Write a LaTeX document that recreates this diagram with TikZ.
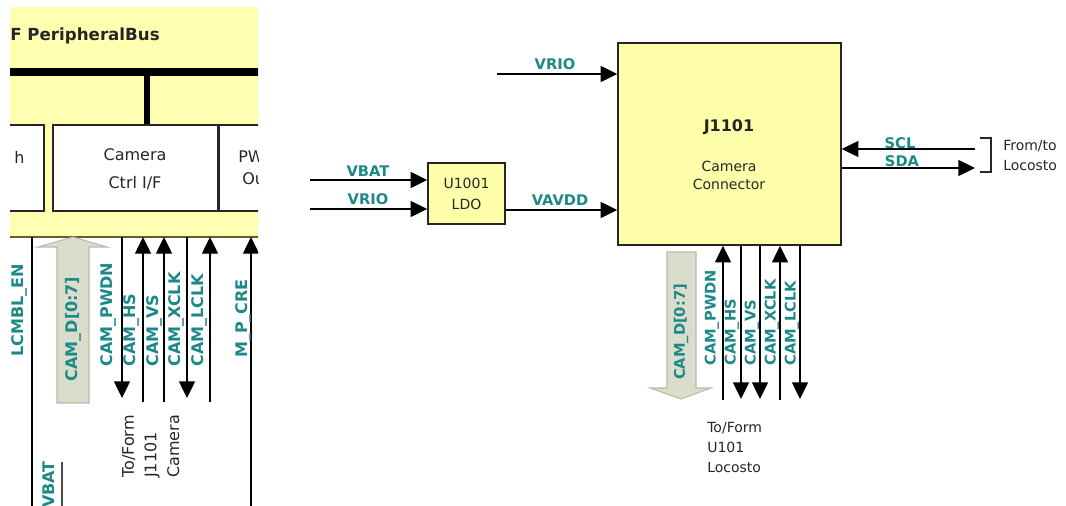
\documentclass[tikz,border=0pt]{standalone}
\usepackage{fontspec}
\setmainfont{DejaVu Sans}
\usetikzlibrary{arrows.meta}

\definecolor{sigteal}{RGB}{28,136,136}
\definecolor{busyellow}{RGB}{255,255,178}
\definecolor{boxyellow}{RGB}{255,255,170}
\definecolor{fatfill}{RGB}{218,221,204}
\definecolor{fatline}{RGB}{184,187,170}
\definecolor{txtgray}{RGB}{38,38,38}

\newcommand{\sigfontR}{\fontsize{11}{13}\selectfont\bfseries}
\newcommand{\sigfontL}{\fontsize{12}{14}\selectfont\bfseries}

\begin{document}
\begin{tikzpicture}[x=0.75pt, y=-0.75pt,
  sigR/.style={font=\sigfontR, text=sigteal, inner sep=0pt},
  sigL/.style={font=\sigfontL, text=sigteal, inner sep=0pt},
  lblR/.style={font=\fontsize{10.5}{15}\selectfont, text=txtgray, inner sep=0pt},
  lblL/.style={font=\fontsize{12}{16.9}\selectfont, text=txtgray, inner sep=0pt},
  blkbox/.style={draw=black!85, line width=1.1pt, inner sep=0pt},
  wire/.style={line width=1pt, -{Triangle[length=12.5pt,width=12pt]}},
  fatarrow/.style={fill=fatfill, draw=fatline, line width=0.8pt}]
\useasboundingbox (0,0) rectangle (1066,506);

\coordinate (ybot) at (0,237);
\coordinate (ltip) at (0,398);
\coordinate (lfoot) at (0,402);
\coordinate (bot) at (0,506);

%% left: piece of the baseband block
\begin{scope}
\clip (10,0) rectangle (258,506);
\fill[busyellow] (0,7) rectangle (270,237);
\draw[olive!60!black, line width=0.8pt] (0,237) -- (270,237);
\node[anchor=west, font=\fontsize{12.5}{14}\selectfont\bfseries, text=black!85, inner sep=0pt] (pbus) at (10,36) {F PeripheralBus};
\draw[line width=6pt] (0,72) -- (270,72);

\node[blkbox, fill=white, minimum width=48pt, minimum height=64.5pt] (leftif) at (12,168) {};
\node[lblL, anchor=west] (lefttxt) at (14,157) {h};
\node[blkbox, fill=white, minimum width=123.75pt, minimum height=64.5pt] (camif) at (135.5,168) {};
\node[lblL] (camtxt) at (135,155) {Camera};
\node[lblL] (ctrltxt) at (135,183) {Ctrl I/F};
\node[blkbox, fill=white, minimum width=60.75pt, minimum height=64.5pt] (pwmif) at (259.5,168) {};
\node[lblL, anchor=west] (pwtxt) at (238,157) {PW};
\node[lblL, anchor=west] (outxt) at (242,179) {Ou};

\coordinate (tap) at (147,72);
\draw[line width=4pt] (tap) -- (tap |- camif.north);

% signals under the block
\coordinate (lcmblA) at (32,237);
\draw[line width=1.3pt] (lcmblA) -- (lcmblA |- bot);
\node[sigL, rotate=90, anchor=west] (lcmblL) at (19,357) {LCMBL\_EN};

\draw[fatarrow] (57,403) -- (89,403) -- (89,247) -- (107,247) -- (73,237) -- (38,247) -- (57,247) -- cycle;
\node[sigL, rotate=90] (camdL) at (73,329) {CAM\_D[0:7]};

\coordinate (pwdnA) at (122,237);
\coordinate (hsA) at (143,237);
\coordinate (vsA) at (164,237);
\coordinate (xclkA) at (187,237);
\coordinate (lclkA) at (210,237);
\coordinate (mpcreA) at (251,237);
\draw[wire] (pwdnA) -- (pwdnA |- ltip);
\draw[wire] (hsA |- lfoot) -- (hsA);
\draw[wire] (vsA |- lfoot) -- (vsA);
\draw[wire] (xclkA) -- (xclkA |- ltip);
\draw[wire] (lclkA |- lfoot) -- (lclkA);
\draw[wire] (mpcreA |- bot) -- (mpcreA);

\node[sigL, rotate=90, anchor=west] (pwdnL) at (108,367) {CAM\_PWDN};
\node[sigL, rotate=90, anchor=west] (hsL) at (131,367) {CAM\_HS};
\node[sigL, rotate=90, anchor=west] (vsL) at (154,367) {CAM\_VS};
\node[sigL, rotate=90, anchor=west] (xclkL) at (176,367) {CAM\_XCLK};
\node[sigL, rotate=90, anchor=west] (lclkL) at (199,367) {CAM\_LCLK};
\node[sigL, rotate=90, anchor=west] (mpcreL) at (243,358) {M\_P\_CRE};

\node[lblL, rotate=90, align=left, anchor=north west] (tojL) at (122,478) {To/Form\\J1101\\Camera};

\coordinate (vbatA) at (62,462);
\draw[line width=1.2pt, black!70] (vbatA) -- (vbatA |- bot);
\node[sigL, rotate=90, anchor=west] (vbatL) at (49,508) {VBAT};
\end{scope}

%% right: camera connector
\node[blkbox, fill=boxyellow, minimum width=167.25pt, minimum height=151.5pt] (j1101) at (729.5,144) {};
\node[lblR, font=\fontsize{12}{14}\selectfont\bfseries] (jname) at (729,127) {J1101};
\node[lblR] (jcam) at (729,166) {Camera};
\node[lblR] (jcon) at (729,184) {Connector};

\node[blkbox, fill=boxyellow, minimum width=57.75pt, minimum height=45.75pt, align=center, font=\fontsize{10.5}{15.75}\selectfont, text=txtgray] (ldo) at (466.5,193.5) {U1001\\LDO};

\coordinate (vrioT) at (497,74);
\coordinate (vbatS) at (310,180);
\coordinate (vrioS) at (310,209);
\coordinate (vavdd) at (0,210);
\draw[wire] (vrioT) -- (vrioT -| j1101.west);
\draw[wire] (vbatS) -- (vbatS -| ldo.west);
\draw[wire] (vrioS) -- (vrioS -| ldo.west);
\draw[wire] (vavdd -| ldo.east) -- (vavdd -| j1101.west);
\node[sigR] (vrioTL) at (555,64) {VRIO};
\node[sigR] (vbatSL) at (368,171) {VBAT};
\node[sigR] (vrioSL) at (368,199) {VRIO};
\node[sigR] (vavddL) at (560,200) {VAVDD};

\coordinate (sclE) at (975,149);
\coordinate (sdaE) at (975,168);
\draw[wire] (sclE) -- (sclE -| j1101.east);
\draw[wire] (sdaE -| j1101.east) -- (sdaE);
\node[sigR] (sclL) at (900,143) {SCL};
\node[sigR] (sdaL) at (902,161) {SDA};
\draw[line width=0.9pt, txtgray] (980,138) -- (991,138) -- (991,172) -- (980,172);
\node[lblR, anchor=west, align=left] (fromto) at (1003,155) {From/to\\Locosto};

% bus to Locosto
\draw[fatarrow] (667,252) -- (696,252) -- (696,388) -- (711,388) -- (681,399) -- (650,388) -- (667,388) -- cycle;
\node[sigR, rotate=90] (camdR) at (681,332) {CAM\_D[0:7]};

\coordinate (rfoot) at (0,400);
\coordinate (rtip) at (0,399);
\coordinate (pwdnB) at (723,0);
\coordinate (hsB) at (741,0);
\coordinate (vsB) at (760,0);
\coordinate (xclkB) at (780,0);
\coordinate (lclkB) at (800,0);
\draw[wire] (pwdnB |- rfoot) -- (pwdnB |- j1101.south);
\draw[wire] (hsB |- j1101.south) -- (hsB |- rtip);
\draw[wire] (vsB |- j1101.south) -- (vsB |- rtip);
\draw[wire] (xclkB |- rfoot) -- (xclkB |- j1101.south);
\draw[wire] (lclkB |- j1101.south) -- (lclkB |- rtip);

\node[sigR, rotate=90, anchor=west] (pwdnR) at (712,366) {CAM\_PWDN};
\node[sigR, rotate=90, anchor=west] (hsR) at (732,366) {CAM\_HS};
\node[sigR, rotate=90, anchor=west] (vsR) at (752,366) {CAM\_VS};
\node[sigR, rotate=90, anchor=west] (xclkR) at (772,366) {CAM\_XCLK};
\node[sigR, rotate=90, anchor=west] (lclkR) at (792,366) {CAM\_LCLK};

\node[lblR, anchor=west, align=left] (toloc) at (707,447) {To/Form\\U101\\Locosto};
\end{tikzpicture}
\end{document}
